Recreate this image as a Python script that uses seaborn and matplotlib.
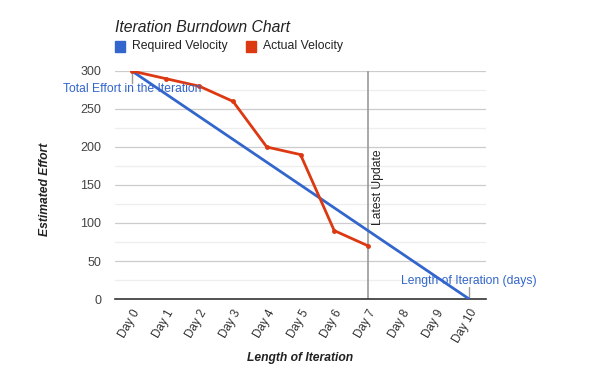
import matplotlib
matplotlib.use("Agg")
import matplotlib.pyplot as plt
import seaborn as sns
import pandas as pd
import numpy as np
from matplotlib.patches import Rectangle

days = ["Day 0", "Day 1", "Day 2", "Day 3", "Day 4", "Day 5", "Day 6", "Day 7", "Day 8", "Day 9", "Day 10"]
required = [300, 270, 240, 210, 180, 150, 120, 90, 60, 30, 0]
actual = [300, 290, 280, 260, 200, 190, 90, 70]
latest_day = 7

sns.set_theme(style="white")
plt.rcParams['font.family'] = ['Liberation Sans', 'DejaVu Sans']

BLUE = "#3366cc"
RED = "#dc3912"
FS = 8.7

fig = plt.figure(figsize=(6, 3.71), dpi=100)
ax = fig.add_axes([115/600, 1-299/371, (486-115)/600, (299-71)/371])

x_req = np.arange(len(required))
x_act = np.arange(len(actual))
df_req = pd.DataFrame({"x": x_req, "y": required})
df_act = pd.DataFrame({"x": x_act, "y": actual})

# gridlines
for v in range(25, 301, 25):
    ax.axhline(v, color="#cccccc" if v % 50 == 0 else "#eeeeee", lw=0.9, zorder=0)

ax.axvline(latest_day, color="#999999", lw=1.2, zorder=1)
ax.text(latest_day + 0.12, 97, "Latest Update", rotation=90, fontsize=FS,
        color="#222222", ha="left", va="bottom")

sns.lineplot(data=df_req, x="x", y="y", ax=ax, color=BLUE, lw=2, label="Required Velocity", zorder=3)
sns.lineplot(data=df_act, x="x", y="y", ax=ax, color=RED, lw=2, marker="o", markersize=3.5,
             markeredgewidth=0, label="Actual Velocity", zorder=4)

# annotations
ax.plot([0, 0], [300, 284], color="#999999", lw=1, zorder=2)
ax.text(-2.04, 276, "Total Effort in the Iteration", color=BLUE, fontsize=FS, ha="left", va="center", zorder=5)
ax.plot([10, 10], [0, 16], color="#999999", lw=1, zorder=2)
ax.text(7.98, 23.7, "Length of Iteration (days)", color=BLUE, fontsize=FS, ha="left", va="center", zorder=5)

ax.set_xlim(-0.5, 10.5)
ax.set_ylim(0, 300)
ax.set_xticks(x_req)
ax.set_xticklabels(days, rotation=60, ha="right", rotation_mode="anchor", fontsize=8.4, color="#333333")
ax.set_yticks(range(0, 301, 50))
ax.set_yticklabels([str(v) for v in range(0, 301, 50)], fontsize=9, color="#444444")
ax.tick_params(axis="x", length=0, pad=6)
ax.tick_params(axis="y", length=0, pad=10)
for s in ["top", "right", "left"]:
    ax.spines[s].set_visible(False)
ax.spines["bottom"].set_color("#333333")
ax.spines["bottom"].set_linewidth(1.2)

ax.set_xlabel("Length of Iteration", fontsize=FS, fontweight="bold", fontstyle="italic", color="#222222")
ax.set_ylabel("Estimated Effort", fontsize=FS, fontweight="bold", fontstyle="italic", color="#222222")
ax.xaxis.set_label_coords((300-115)/371, -(352-299)/228)
ax.yaxis.set_label_coords(-(115-51)/371, (299-189)/228)

ax.get_legend().remove()
fig.text(115/600, 1-27/371, "Iteration Burndown Chart", fontsize=11.3, fontstyle="italic", color="#222222", va="center", ha="left")
# legend
fig.patches.append(Rectangle((115/600, 1-51.5/371), 10/600, 10/371, transform=fig.transFigure, color=BLUE, figure=fig))
fig.text(132/600, 1-46.5/371, "Required Velocity", fontsize=8.8, color="#222222", va="center")
fig.patches.append(Rectangle((246/600, 1-51.5/371), 10/600, 10/371, transform=fig.transFigure, color=RED, figure=fig))
fig.text(263/600, 1-46.5/371, "Actual Velocity", fontsize=8.8, color="#222222", va="center")

fig.savefig("out.png", dpi=100)
